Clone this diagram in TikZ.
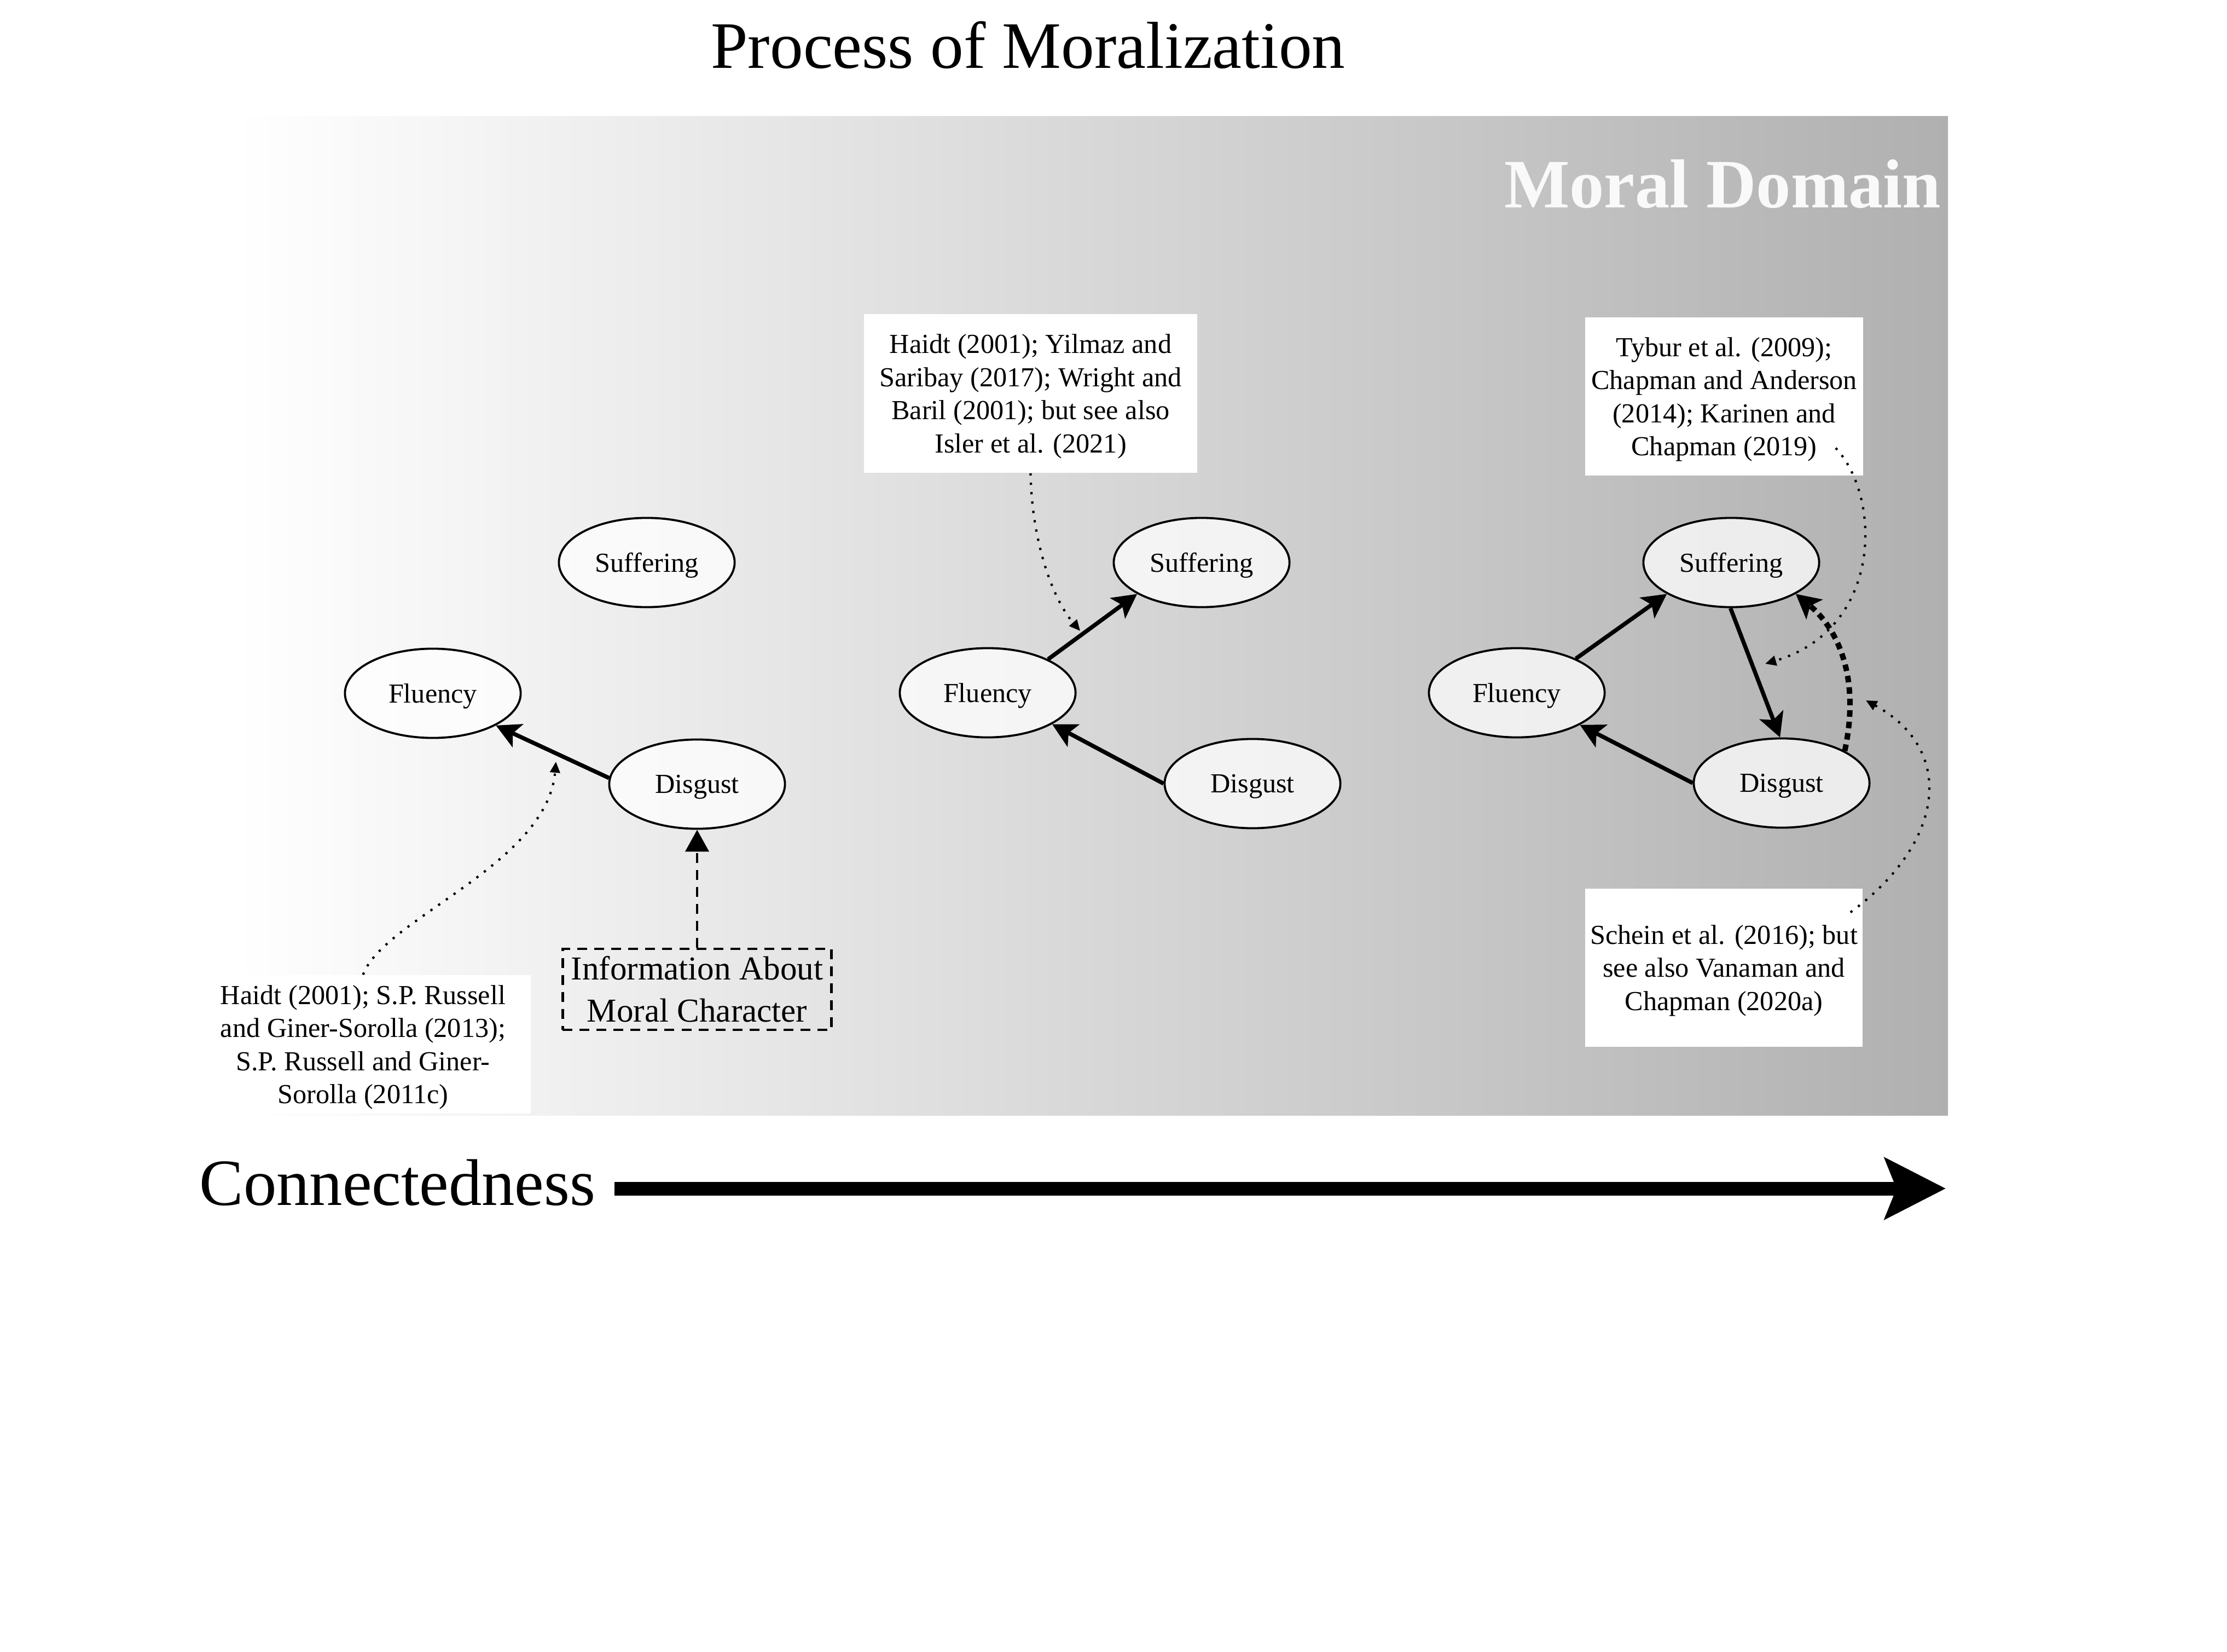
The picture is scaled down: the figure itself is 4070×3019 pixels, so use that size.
\documentclass[tikz,border=0pt]{standalone}
\usepackage{fontspec}
\setmainfont{Liberation Serif}
\usetikzlibrary{arrows.meta,shapes.geometric}
\definecolor{domgray}{RGB}{176,176,176}
\definecolor{mdwhite}{RGB}{249,249,249}
\begin{document}
\begin{tikzpicture}[x=0.01cm,y=-0.01cm,
  emo/.style={ellipse,draw,line width=0.38mm,fill=white,fill opacity=0.75,text opacity=1,text depth=0pt,
    minimum width=32.1mm,minimum height=16.3mm,inner sep=0pt,font=\fontsize{14.3}{17}\selectfont},
  refbox/.style={rectangle,fill=white,inner sep=0pt,align=center,text depth=0pt,font=\fontsize{14.3}{17.2}\selectfont},
  link/.style={line width=0.75mm,-{Stealth[length=4.4mm,width=4.6mm,inset=1mm]}},
  boldlink/.style={line width=1.0mm,dash pattern=on 1.2mm off 0.9mm,-{Stealth[length=4.4mm,width=4.6mm,inset=1mm]}},
  infolink/.style={line width=0.45mm,dash pattern=on 1.8mm off 1.3mm,-{Triangle[length=4mm,width=4.3mm]}},
  citelink/.style={line width=0.42mm,dash pattern=on 0.42mm off 1.3mm,-{Triangle[length=2mm,width=1.8mm]}}
]
\useasboundingbox (0,0) rectangle (4070,3019);
\fill[white] (0,0) rectangle (4070,3019);
% domain background
\shade[left color=white,right color=domgray] (430,213) rectangle (3560,2038);
% titles
\node[anchor=base,inner sep=0pt,font=\fontsize{34.5}{40}\selectfont] (title) at (1879,125) {Process of Moralization};
\node[anchor=base east,inner sep=0pt,text=mdwhite,font=\fontsize{36}{42}\selectfont\bfseries] (md) at (3548,380) {Moral Domain};
% reference boxes
\node[refbox,minimum width=61.3mm,minimum height=25.3mm] (a1) at (663.5,1908.5)
  {Haidt (2001); S.P. Russell\\and Giner-Sorolla (2013);\\S.P. Russell and Giner-\\Sorolla (2011c)};
\node[refbox,minimum width=60.9mm,minimum height=29mm] (a2) at (1883.5,719)
  {Haidt (2001); Yilmaz and\\Saribay (2017); Wright and\\Baril (2001); but see also\\Isler et al. (2021)};
\node[refbox,minimum width=50.8mm,minimum height=28.9mm] (a3) at (3151,724.5)
  {Tybur et al. (2009);\\Chapman and Anderson\\(2014); Karinen and\\Chapman (2019)};
\node[refbox,minimum width=50.7mm,minimum height=28.9mm] (a4) at (3150.5,1768.5)
  {Schein et al. (2016); but\\see also Vanaman and\\Chapman (2020a)};
% info box
\node[draw,line width=0.45mm,dash pattern=on 1.8mm off 1.3mm,minimum width=49.1mm,minimum height=14.8mm,
  inner sep=0pt,align=center,font=\fontsize{17.4}{22}\selectfont] (info) at (1274,1808)
  {Information About\\Moral Character};
% emotion nodes
\node[emo] (s1) at (1182,1028) {Suffering};
\node[emo] (f1) at (791,1267) {Fluency};
\node[emo] (d1) at (1274,1433) {Disgust};
\node[emo] (s2) at (2196,1028) {Suffering};
\node[emo] (f2) at (1805,1266) {Fluency};
\node[emo] (d2) at (2289,1432) {Disgust};
\node[emo] (s3) at (3164,1028) {Suffering};
\node[emo] (f3) at (2772,1266) {Fluency};
\node[emo] (d3) at (3256,1431) {Disgust};
% links
\draw[link] (d1.176) -- (f1.-27);
\draw[infolink] (info.north) -- (d1.south);
\draw[link] (f2.29) -- (s2.206);
\draw[link] (d2.180) -- (f2.-26);
\draw[link] (f3.30) -- (s3.206);
\draw[link] (s3.-91) -- (d3.92);
\draw[link] (d3.180) -- (f3.-27);
\draw[boldlink] (d3.27) .. controls (3400,1240) and (3360,1150) .. (s3.-26);
% citation pointers
\coordinate (t1) at (1016,1392);
\draw[citelink] (a1.north) .. controls (700,1680) and (1000,1580) .. (t1);
\coordinate (t2) at (1974,1153);
\draw[citelink] (a2.south) .. controls (1885,980) and (1920,1090) .. (t2);
\coordinate (t3) at (3226,1213);
\draw[citelink] ([shift={(-51,-51)}]a3.south east) .. controls (3440,910) and (3440,1150) .. (t3);
\coordinate (t4) at (3410,1280);
\draw[citelink] ([shift={(-23,44)}]a4.north east) .. controls (3555,1540) and (3575,1370) .. (t4);
% connectedness axis
\node[anchor=base west,inner sep=0pt,font=\fontsize{34.3}{40}\selectfont] (conn) at (364,2202) {Connectedness};
\coordinate (ax0) at (1123,2172);
\coordinate (ax1) at (3556,2172);
\draw[line width=2.5mm,-{Stealth[length=11.1mm,width=11.1mm,inset=2.1mm]}] (ax0) -- (ax1);
\end{tikzpicture}
\end{document}
